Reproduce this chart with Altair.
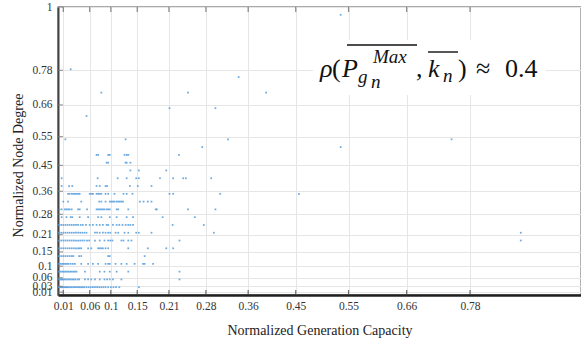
import altair as alt
import pandas as pd

MAX_DEGREE = 37

# x values (normalized generation capacity) of nodes, grouped by node degree k (y = k / MAX_DEGREE)
x_k1 = [0.002, 0.004, 0.006, 0.008, 0.010, 0.012, 0.014, 0.016, 0.018, 0.020, 0.023, 0.026, 0.029,
        0.032, 0.035, 0.038, 0.041, 0.044, 0.047, 0.050, 0.054, 0.058, 0.062, 0.066, 0.070, 0.074,
        0.078, 0.082, 0.086, 0.090, 0.095, 0.100, 0.105, 0.110, 0.116, 0.153]
x_k2 = [0.002, 0.004, 0.006, 0.008, 0.010, 0.012, 0.015, 0.018, 0.021, 0.024, 0.027, 0.030, 0.033,
        0.037, 0.040, 0.051, 0.057, 0.063, 0.070, 0.079, 0.088, 0.093, 0.098, 0.104, 0.120, 0.230]
x_k3 = [0.002, 0.005, 0.008, 0.011, 0.014, 0.017, 0.020, 0.023, 0.026, 0.029, 0.032, 0.035, 0.051,
        0.079, 0.088, 0.098, 0.111, 0.133, 0.230]
x_k4 = [0.002, 0.005, 0.008, 0.011, 0.014, 0.017, 0.020, 0.024, 0.028, 0.032, 0.044, 0.057, 0.066,
        0.076, 0.090, 0.095, 0.098, 0.109, 0.120, 0.130, 0.145, 0.161, 0.164, 0.180]
x_k5 = [0.002, 0.006, 0.010, 0.014, 0.018, 0.022, 0.026, 0.029, 0.040, 0.044, 0.095, 0.098, 0.164]
x_k6 = [0.002, 0.006, 0.010, 0.014, 0.018, 0.022, 0.026, 0.030, 0.034, 0.038, 0.041, 0.044, 0.057,
        0.063, 0.076, 0.079, 0.082, 0.085, 0.090, 0.095, 0.133, 0.170, 0.205, 0.218]
x_k7 = [0.002, 0.006, 0.010, 0.014, 0.018, 0.022, 0.026, 0.030, 0.034, 0.038, 0.042, 0.046, 0.050,
        0.055, 0.059, 0.070, 0.079, 0.088, 0.095, 0.099, 0.103, 0.120, 0.124, 0.133, 0.139, 0.230,
        0.876]
x_k8 = [0.002, 0.006, 0.010, 0.014, 0.018, 0.022, 0.026, 0.030, 0.034, 0.038, 0.042, 0.046, 0.050,
        0.054, 0.070, 0.074, 0.079, 0.085, 0.090, 0.095, 0.099, 0.109, 0.114, 0.126, 0.133, 0.148,
        0.153, 0.177, 0.295, 0.876]
x_k9 = [0.002, 0.006, 0.010, 0.014, 0.018, 0.022, 0.026, 0.030, 0.034, 0.038, 0.043, 0.047, 0.053,
        0.060, 0.066, 0.073, 0.079, 0.085, 0.092, 0.095, 0.104, 0.111, 0.116, 0.122, 0.128, 0.133,
        0.137, 0.142, 0.217, 0.276]
x_k10 = [0.007, 0.016, 0.024, 0.027, 0.041, 0.057, 0.076, 0.082, 0.098, 0.111, 0.130, 0.142, 0.198,
         0.259]
x_k11 = [0.003, 0.007, 0.013, 0.016, 0.019, 0.022, 0.026, 0.038, 0.041, 0.055, 0.073, 0.076, 0.079,
         0.082, 0.085, 0.088, 0.092, 0.095, 0.098, 0.111, 0.114, 0.133, 0.185, 0.187, 0.246, 0.298]
x_k12 = [0.010, 0.019, 0.044, 0.078, 0.082, 0.090, 0.098, 0.101, 0.104, 0.107, 0.111, 0.114, 0.117,
         0.120, 0.123, 0.155, 0.162, 0.170, 0.177]
x_k13 = [0.019, 0.022, 0.026, 0.029, 0.032, 0.035, 0.038, 0.041, 0.060, 0.063, 0.066, 0.073, 0.076,
         0.079, 0.082, 0.090, 0.095, 0.107, 0.124, 0.130, 0.141, 0.211, 0.218, 0.307, 0.456]
x_k14 = [0.007, 0.021, 0.027, 0.073, 0.079, 0.090, 0.093, 0.136, 0.151, 0.177]
x_k15 = [0.007, 0.075, 0.113, 0.130, 0.148, 0.153, 0.193, 0.218, 0.237, 0.242, 0.290]
x_k16 = [0.137, 0.153, 0.205]
x_k17 = [0.092, 0.095, 0.128, 0.130, 0.137]
x_k18 = [0.073, 0.076, 0.095, 0.098, 0.126, 0.130, 0.133, 0.229]
x_k19 = [0.273, 0.535]
x_k20 = [0.014, 0.128, 0.322, 0.745]
x_k23 = [0.054]
x_k24 = [0.211, 0.298]
x_k26 = [0.082, 0.246, 0.394]
x_k28 = [0.342]
x_k29 = [0.024]
x_k36 = [0.535]

degrees = [1, 2, 3, 4, 5, 6, 7, 8, 9, 10, 11, 12, 13, 14, 15, 16, 17, 18, 19, 20, 23, 24, 26, 28, 29, 36]
rows = [x_k1, x_k2, x_k3, x_k4, x_k5, x_k6, x_k7, x_k8, x_k9, x_k10, x_k11, x_k12, x_k13, x_k14,
        x_k15, x_k16, x_k17, x_k18, x_k19, x_k20, x_k23, x_k24, x_k26, x_k28, x_k29, x_k36]

x_ticks = [0.01, 0.06, 0.1, 0.15, 0.21, 0.28, 0.36, 0.45, 0.55, 0.66, 0.78]
y_ticks = [0.01, 0.03, 0.06, 0.1, 0.15, 0.21, 0.28, 0.36, 0.45, 0.55, 0.66, 0.78, 1]

records = []
for k, xs in zip(degrees, rows):
    for xv in xs:
        records.append({"x": xv, "y": k / MAX_DEGREE})
df = pd.DataFrame(records)

W, H = 523, 288
SERIF = "Liberation Serif"

xscale = alt.Scale(domain=[0, 0.99], nice=False, zero=False)
yscale = alt.Scale(domain=[0, 1], nice=False, zero=False)

xaxis = alt.Axis(
    values=x_ticks, title="Normalized Generation Capacity", labelExpr="'' + datum.value",
    labelPadding=5, titlePadding=12, domainColor="#222", domainWidth=2.5,
    labelOverlap=False, labelFlush=False, labelBound=False)
yaxis = alt.Axis(
    values=y_ticks, title="Normalized Node Degree", labelExpr="'' + datum.value",
    labelPadding=6, domainColor="#444", domainWidth=2, labelOverlap=False, labelFlush=False,
    labelBound=False, titleX=-33, titleY=158, titleBaseline="bottom", titleAlign="center")

points = alt.Chart(df).mark_square(size=3, color="#5aa0de", opacity=0.9).encode(
    x=alt.X("x:Q", scale=xscale, axis=xaxis),
    y=alt.Y("y:Q", scale=yscale, axis=yaxis),
)

xt = pd.DataFrame({"t": x_ticks})
yt = pd.DataFrame({"t": y_ticks})
bottom_ticks = alt.Chart(xt).mark_tick(size=5, thickness=1.2, color="#333").encode(
    x=alt.X("t:Q", scale=xscale, axis=xaxis), y=alt.value(H - 2.5))
top_ticks = alt.Chart(xt).mark_tick(size=5, thickness=1.2, color="#555").encode(
    x=alt.X("t:Q", scale=xscale, axis=xaxis), y=alt.value(2.5))
left_ticks = alt.Chart(yt).mark_tick(size=5, thickness=1.2, color="#777").encode(
    y=alt.Y("t:Q", scale=yscale, axis=yaxis), x=alt.value(2.5))

one = pd.DataFrame({"a": [0]})


def txt(s, x, y, size, italic=True):
    kw = dict(text=s, fontSize=size, font=SERIF, align="left", baseline="alphabetic", color="#111")
    if italic:
        kw["fontStyle"] = "italic"
    return alt.Chart(one).mark_text(**kw).encode(x=alt.value(x), y=alt.value(y))


def bar(x1, x2, y):
    return alt.Chart(one).mark_rule(color="#111", strokeWidth=1.4).encode(
        x=alt.value(x1), x2=alt.value(x2), y=alt.value(y))


box = alt.Chart(one).mark_rect(color="white").encode(
    x=alt.value(255), x2=alt.value(488), y=alt.value(33), y2=alt.value(88))

formula = [
    box,
    txt("ρ", 262, 70, 26),
    txt("(", 274, 70, 26, italic=False),
    txt("P", 284, 70, 26),
    txt("g", 300, 76, 19),
    txt("n", 313, 81, 19),
    txt("Max", 315, 56, 19),
    bar(289, 359, 38),
    txt(",", 358, 70, 26, italic=False),
    txt("k", 370, 70, 26),
    txt("n", 385, 75, 19),
    bar(370, 400, 45),
    txt(")", 400, 70, 26, italic=False),
    txt("≈", 418, 70, 26, italic=False),
    txt("0.4", 447, 70, 26, italic=False),
]

chart = alt.layer(points, bottom_ticks, top_ticks, left_ticks, *formula).properties(
    width=W, height=H,
    background="white",
    autosize=alt.AutoSizeParams(type="none"),
    padding={"left": 58, "top": 7, "right": 0, "bottom": 44},
).configure_view(
    stroke="#555", strokeWidth=1.3
).configure_axis(
    tickSize=0, labelFont=SERIF, labelFontSize=11.5, labelColor="#333",
    titleFont=SERIF, titleFontSize=14, titleFontWeight="normal", titleColor="#222",
    gridColor="#e6e6e6", gridWidth=1,
)

chart.save("out.html", embed_options={"renderer": "svg", "actions": False})
